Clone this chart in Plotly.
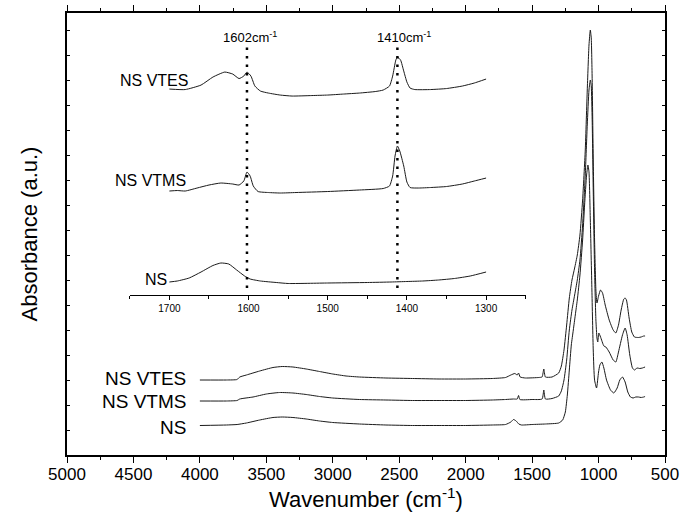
import plotly.graph_objects as go

# ---------------- main spectra (absorbance, a.u., stacked) ----------------
wn_vtes = [4000, 3800, 3720, 3700, 3650, 3550, 3450, 3380, 3300, 3200,
           3100, 3000, 2900, 2800, 2600, 2400, 2200, 2000, 1800, 1700,
           1660, 1630, 1612, 1602, 1590, 1550, 1450, 1425, 1412, 1400,
           1350, 1300, 1280, 1260, 1240, 1220, 1200, 1180, 1160, 1140,
           1120, 1100, 1085, 1072, 1062, 1055, 1048, 1040, 1030, 1020,
           1012, 1000, 985, 970, 950, 920, 890, 870, 850, 830,
           810, 800, 790, 770, 750, 730, 700, 680, 660, 650]
ab_vtes = [0.75, 0.75, 0.755, 0.78, 0.80, 0.84, 0.875, 0.885, 0.88, 0.86,
           0.835, 0.81, 0.79, 0.78, 0.77, 0.765, 0.76, 0.76, 0.765, 0.775,
           0.80, 0.815, 0.80, 0.82, 0.78, 0.77, 0.775, 0.78, 0.86, 0.78,
           0.78, 0.82, 0.89, 1.05, 1.30, 1.57, 1.75, 1.87, 2.00, 2.20,
           2.55, 3.05, 3.65, 4.10, 4.25, 4.17, 3.75, 2.95, 2.15, 1.65,
           1.52, 1.59, 1.65, 1.62, 1.50, 1.35, 1.25, 1.22, 1.30, 1.45,
           1.56, 1.57, 1.55, 1.37, 1.23, 1.18, 1.175, 1.18, 1.19, 1.19]

wn_vtms = [4000, 3800, 3720, 3700, 3600, 3500, 3400, 3300, 3200, 3100,
           3000, 2800, 2600, 2400, 2200, 2000, 1800, 1700, 1640, 1612,
           1602, 1592, 1500, 1425, 1412, 1400, 1350, 1300, 1280, 1260,
           1240, 1220, 1200, 1180, 1160, 1140, 1120, 1100, 1085, 1072,
           1062, 1055, 1048, 1040, 1030, 1020, 1012, 1006, 998, 985,
           960, 945, 920, 890, 870, 850, 820, 800, 785, 765,
           745, 730, 710, 690, 670, 650]
ab_vtms = [0.54, 0.54, 0.545, 0.56, 0.58, 0.61, 0.625, 0.62, 0.605, 0.585,
           0.57, 0.555, 0.55, 0.545, 0.545, 0.545, 0.55, 0.555, 0.56, 0.56,
           0.595, 0.555, 0.555, 0.56, 0.65, 0.56, 0.565, 0.59, 0.64, 0.75,
           0.95, 1.25, 1.45, 1.60, 1.75, 1.95, 2.30, 2.80, 3.30, 3.65,
           3.75, 3.69, 3.35, 2.65, 1.85, 1.35, 1.17, 1.13, 1.22, 1.18,
           1.09, 1.08, 1.03, 0.95, 0.93, 1.03, 1.20, 1.27, 1.20, 1.00,
           0.87, 0.85, 0.87, 0.865, 0.87, 0.88]

wn_ns = [4000, 3800, 3720, 3650, 3550, 3450, 3380, 3300, 3200, 3100,
         3000, 2800, 2600, 2400, 2200, 2000, 1800, 1700, 1660, 1640,
         1620, 1600, 1580, 1500, 1400, 1300, 1270, 1250, 1235, 1220,
         1205, 1190, 1175, 1160, 1140, 1120, 1105, 1090, 1080, 1072,
         1062, 1050, 1040, 1030, 1015, 1000, 990, 975, 960, 940,
         910, 885, 860, 840, 820, 800, 780, 760, 740, 720,
         700, 680, 660, 650]
ab_ns = [0.295, 0.30, 0.305, 0.32, 0.35, 0.375, 0.38, 0.375, 0.36, 0.34,
         0.325, 0.31, 0.30, 0.295, 0.295, 0.295, 0.30, 0.305, 0.33, 0.355,
         0.34, 0.31, 0.30, 0.305, 0.31, 0.32, 0.35, 0.43, 0.60, 0.85,
         1.10, 1.25, 1.40, 1.55, 1.80, 2.15, 2.50, 2.80, 2.90, 2.83,
         2.35, 1.65, 1.05, 0.75, 0.67, 0.83, 0.90, 0.93, 0.87, 0.75,
         0.65, 0.62, 0.67, 0.75, 0.78, 0.73, 0.63, 0.58, 0.57, 0.58,
         0.58, 0.575, 0.58, 0.585]

# ---------------- inset (1700-1300 cm-1 zoom) ----------------
wn_in_vtes = [1700, 1680, 1660, 1645, 1630, 1620, 1612, 1606, 1602, 1597,
              1592, 1585, 1575, 1560, 1545, 1520, 1500, 1480, 1460, 1440,
              1430, 1422, 1418, 1414, 1412, 1408, 1404, 1400, 1396, 1390,
              1370, 1350, 1330, 1315, 1300]
ab_in_vtes = [2.06, 2.055, 2.10, 2.18, 2.23, 2.21, 2.165, 2.19, 2.23, 2.19,
              2.09, 2.04, 2.02, 2.00, 1.99, 1.995, 2.00, 2.01, 2.02, 2.035,
              2.05, 2.09, 2.19, 2.35, 2.38, 2.35, 2.24, 2.13, 2.07, 2.055,
              2.055, 2.065, 2.09, 2.12, 2.16]

wn_in_vtms = [1700, 1690, 1680, 1665, 1650, 1635, 1620, 1612, 1606, 1602,
              1598, 1594, 1588, 1575, 1560, 1540, 1500, 1460, 1430, 1422,
              1418, 1415, 1412, 1409, 1404, 1400, 1396, 1385, 1370, 1350,
              1330, 1315, 1300]
ab_in_vtms = [1.04, 1.045, 1.04, 1.07, 1.10, 1.12, 1.11, 1.10, 1.14, 1.23,
              1.19, 1.09, 1.035, 1.025, 1.02, 1.025, 1.035, 1.05, 1.065, 1.09,
              1.19, 1.39, 1.49, 1.44, 1.29, 1.13, 1.075, 1.07, 1.075, 1.085,
              1.11, 1.14, 1.17]

wn_in_ns = [1700, 1690, 1675, 1660, 1645, 1635, 1625, 1615, 1605, 1598,
            1585, 1565, 1550, 1500, 1450, 1420, 1400, 1380, 1360, 1340,
            1320, 1300]
ab_in_ns = [0.13, 0.14, 0.17, 0.23, 0.295, 0.32, 0.31, 0.25, 0.19, 0.16,
            0.14, 0.125, 0.115, 0.12, 0.125, 0.13, 0.135, 0.14, 0.15, 0.165,
            0.19, 0.23]

series_names = ["NS VTES", "NS VTMS", "NS"]
marker_lines = [1602, 1412]
marker_labels = ["1602cm<sup>-1</sup>", "1410cm<sup>-1</sup>"]
x_tick_vals = [5000, 4500, 4000, 3500, 3000, 2500, 2000, 1500, 1000, 500]
inset_tick_vals = [1700, 1600, 1500, 1400, 1300]

FONT = "Liberation Sans, Arial, sans-serif"
LC = "#1a1a1a"

fig = go.Figure()
for x, y in [(wn_vtes, ab_vtes), (wn_vtms, ab_vtms), (wn_ns, ab_ns)]:
    fig.add_trace(go.Scatter(x=x, y=y, mode="lines", xaxis="x", yaxis="y",
                             line=dict(color=LC, width=1, shape="spline", smoothing=0.5),
                             showlegend=False, hoverinfo="skip"))
for x, y in [(wn_in_vtes, ab_in_vtes), (wn_in_vtms, ab_in_vtms), (wn_in_ns, ab_in_ns)]:
    fig.add_trace(go.Scatter(x=x, y=y, mode="lines", xaxis="x2", yaxis="y2",
                             line=dict(color=LC, width=1, shape="spline", smoothing=0.5),
                             showlegend=False, hoverinfo="skip"))

ann = []
# main labels
main_label_y = [ab_vtes[0] + 0.02, ab_vtms[0], ab_ns[0] - 0.02]
for name, yv in zip(series_names, main_label_y):
    ann.append(dict(x=4090, y=yv, xref="x", yref="y", text=name, showarrow=False,
                    xanchor="right", yanchor="middle",
                    font=dict(family=FONT, size=19, color="black")))
# inset labels
inset_label_x = [1674, 1676, 1700]
inset_label_y = [2.15, 1.15, 0.16]
for name, xv, yv in zip(series_names, inset_label_x, inset_label_y):
    ann.append(dict(x=xv, y=yv, xref="x2", yref="y2", text=name, showarrow=False,
                    xanchor="right", yanchor="middle",
                    font=dict(family=FONT, size=16, color="black")))
# marker labels
for xv, txt in zip([1598, 1404], marker_labels):
    ann.append(dict(x=xv, y=2.58, xref="x2", yref="y2", text=txt, showarrow=False,
                    xanchor="center", yanchor="middle",
                    font=dict(family=FONT, size=13, color="black")))

shapes = []
for xv in marker_lines:
    shapes.append(dict(type="line", xref="x2", yref="y2", x0=xv, x1=xv, y0=0.07, y1=2.50,
                       line=dict(color="black", width=2.5, dash="2.5px,6px")))

fig.update_layout(
    width=682, height=525,
    margin=dict(l=67, r=17, t=13, b=70),
    paper_bgcolor="white", plot_bgcolor="white",
    showlegend=False,
    annotations=ann, shapes=shapes,
    xaxis=dict(domain=[0, 1], range=[5000, 500], tickvals=x_tick_vals,
               automargin=False,
               ticks="outside", ticklen=6, tickwidth=1, tickcolor="black",
               ticklabelstandoff=-3,
               minor=dict(dtick=250, ticks="outside", ticklen=3, tickcolor="black"),
               showline=True, linecolor="black", linewidth=1.5, mirror="allticks",
               showgrid=False, zeroline=False,
               tickfont=dict(family=FONT, size=17, color="black"),
               title=dict(text="Wavenumber (cm<sup>-1</sup>)", standoff=8,
                          font=dict(family=FONT, size=22, color="black"))),
    yaxis=dict(domain=[0, 1], range=[0, 4.42], showticklabels=False,
               automargin=False,
               dtick=0.25, ticks="inside", ticklen=3, tickcolor="black",
               showline=True, linecolor="black", linewidth=1.5, mirror="allticks",
               showgrid=False, zeroline=False,
               title=dict(text="Absorbance (a.u.)", standoff=22,
                          font=dict(family=FONT, size=22, color="black"))),
    xaxis2=dict(domain=[0.105, 0.767], range=[1750, 1250], anchor="y2",
                automargin=False,
                tickvals=inset_tick_vals, ticks="outside", ticklen=4, tickcolor="black",
                minor=dict(dtick=50, ticks="outside", ticklen=3, tickcolor="black"),
                showline=True, linecolor="black", linewidth=1.2,
                showgrid=False, zeroline=False,
                tickfont=dict(family=FONT, size=10, color="black")),
    yaxis2=dict(domain=[0.362, 0.984], range=[0, 2.75], anchor="x2", visible=False),
)

fig.write_html("out.html")
